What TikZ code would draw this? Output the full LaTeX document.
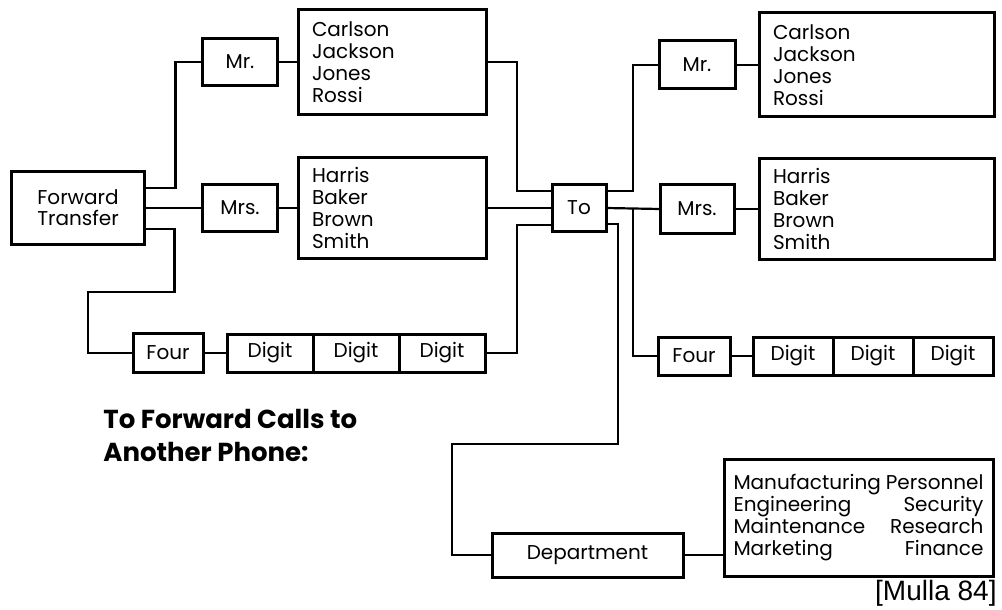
\documentclass[tikz,border=0pt]{standalone}
\usepackage{fontspec}
\setmainfont{Poppins}
\newfontfamily\refsans{Liberation Sans}
\usetikzlibrary{calc}
\newcommand\deptrow[2]{\makebox[\linewidth][l]{#1\hfill #2}}
\tikzset{box/.style={draw,line width=1.5pt,inner sep=0pt,outer sep=0pt,align=center,
 font=\fontsize{10}{10.5}\selectfont},namebox/.style={box,align=left,inner xsep=7pt,
 font=\fontsize{10}{11}\selectfont},wire/.style={line width=1.1pt,line join=miter}}

\begin{document}
\begin{tikzpicture}[x=0.5pt,y=-0.5pt]
\useasboundingbox (0,0) rectangle (1002,610);
% left half
\node[box,minimum width=66.5pt,minimum height=36.5pt] (ft) at (78,208) {Forward\\Transfer};
\node[box,minimum width=37.5pt,minimum height=23.5pt] (mrl) at (240,62) {Mr.};
\node[box,minimum width=37.5pt,minimum height=23.5pt] (mrsl) at (240,208) {Mrs.};
\node[namebox,text width=80pt,minimum height=52.5pt] (cl) at (392,62) {Carlson\\Jackson\\Jones\\Rossi};
\node[namebox,text width=80pt,minimum height=50pt] (hl) at (392,208) {Harris\\Baker\\Brown\\Smith};
\node[box,minimum width=35pt,minimum height=19.5pt] (fourl) at (168,353) {Four};
\foreach \i/\x in {1/270,2/356,3/442}
 \node[box,minimum width=43pt,minimum height=19pt] (dl\i) at (\x,353) {Digit};
\node[box,minimum width=27pt,minimum height=23.5pt] (to) at (579,208) {To};
% right half
\node[box,minimum width=38pt,minimum height=24pt] (mrr) at (697,65) {Mr.};
\node[box,minimum width=37pt,minimum height=24pt] (mrsr) at (697,209) {Mrs.};
\node[namebox,text width=103.5pt,minimum height=52pt] (cr) at (876.5,65) {Carlson\\Jackson\\Jones\\Rossi};
\node[namebox,text width=103.5pt,minimum height=50pt] (hr) at (876.5,209) {Harris\\Baker\\Brown\\Smith};
\node[box,minimum width=36pt,minimum height=19pt] (fourr) at (694,356) {Four};
\foreach \i/\x in {1/793,2/873,3/953}
 \node[box,minimum width=40pt,minimum height=19pt] (dr\i) at (\x,356) {Digit};
\node[box,minimum width=95.5pt,minimum height=22pt] (dept) at (587.5,555) {Department};
\node[box,align=left,text width=125pt,inner xsep=4.75pt,minimum height=58.5pt,
 font=\fontsize{10}{10.9}\selectfont] (dlist) at (858.5,517.5)
 {\deptrow{Manufacturing}{Personnel}\\\deptrow{Engineering}{Security}\\
  \deptrow{Maintenance}{Research}\\\deptrow{Marketing}{Finance}};
% captions
\node[font=\fontsize{13}{16.5}\selectfont\bfseries,align=left,anchor=north west,inner sep=0pt] (ttl)
 at (103,409) {To Forward Calls to\\Another Phone:};
\node[font=\refsans\fontsize{14}{14}\selectfont,anchor=south east,inner sep=0pt] (src) at (997,607) {[Mulla 84]};
% connectors
\draw[wire] ($(ft.east)+(0,-20)$) -| ($(mrl.west)+(-27,0)$) -- (mrl.west);
\draw[wire] (ft.east) -- (mrsl.west);
\draw[wire] ($(ft.east)+(0,21)$) -| ($(ft.east)+(30,84)$) -| ($(fourl.west)+(-45,0)$) -- (fourl.west);
\draw[wire] (mrl.east) -- (cl.west);
\draw[wire] (mrsl.east) -- (hl.west);
\draw[wire] (fourl.east) -- (dl1.west);
\draw[wire] (cl.east) -| ($(to.west)+(-35,-17)$) -- ($(to.west)+(0,-17)$);
\draw[wire] (hl.east) -- (to.west);
\draw[wire] (dl3.east) -| ($(to.west)+(-35,17)$) -- ($(to.west)+(0,17)$);
\draw[wire] ($(to.east)+(0,-17)$) -| ($(mrr.west)+(-26,0)$) -- (mrr.west);
\draw[wire] (to.east) -- (mrsr.west);
\draw[wire] ($(to.east)+(27,0)$) |- (fourr.west);
\draw[wire] ($(to.east)+(0,16)$) -- ++(12,0) |- ($(dept.west)+(-40,-111)$) |- (dept.west);
\draw[wire] (mrr.east) -- (cr.west);
\draw[wire] (mrsr.east) -- (hr.west);
\draw[wire] (fourr.east) -- (dr1.west);
\draw[wire] (dept.east) -- (dept.east -| dlist.west);
\end{tikzpicture}
\end{document}
